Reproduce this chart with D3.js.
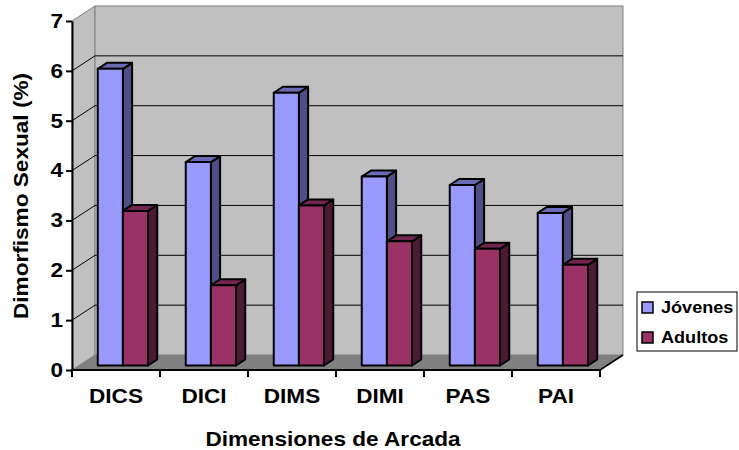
<!DOCTYPE html>
<html>
<head>
<meta charset="utf-8">
<script src="https://cdn.jsdelivr.net/npm/d3@7"></script>
<style>
  body { margin: 0; background: #fff; }
  text { font-family: "Liberation Sans", Arial, sans-serif; font-weight: bold; fill: #000; }
</style>
</head>
<body>
<div id="chart"></div>
<script>
// data
var categories = ["DICS", "DICI", "DIMS", "DIMI", "PAS", "PAI"];
var seriesNames = ["Jóvenes", "Adultos"];
var jovenes = [5.95, 4.08, 5.47, 3.79, 3.62, 3.06];
var adultos = [3.10, 1.61, 3.21, 2.49, 2.34, 2.02];
var yTicks = [0, 1, 2, 3, 4, 5, 6, 7];

var svgWidth = 739, svgHeight = 450;
var plot = { left: 72, right: 600, top: 21, bottom: 370 };
var depth = { dx: 23, dy: -15 };   // 3d offset of the back wall
var barFront = 0.3, barBack = 0.7; // bar position inside the depth
var stretch = 1.13;                // text looks horizontally widened

var colors = {
  "Jóvenes": { front: "#9999ff", side: "#4f4f85", top: "#6b6bb5" },
  "Adultos": { front: "#993366", side: "#4d1a33", top: "#732650" }
};

var svg = d3.select("#chart").append("svg")
  .attr("width", svgWidth)
  .attr("height", svgHeight);

var x = d3.scaleBand().domain(categories).range([plot.left, plot.right]);
var xs = d3.scaleBand().domain(seriesNames).range([0, x.bandwidth()]).paddingOuter(0.75);
var y = d3.scaleLinear().domain([0, 7]).range([plot.bottom, plot.top]);

var dx = depth.dx, dy = depth.dy;

// left wall
svg.append("polygon")
  .attr("points", [[plot.left, y(7)], [plot.left + dx, y(7) + dy], [plot.left + dx, y(0) + dy], [plot.left, y(0)]].join(" "))
  .attr("fill", "#c0c0c0")
  .attr("stroke", "#808080")
  .attr("stroke-width", 1);

// back wall
svg.append("rect")
  .attr("x", plot.left + dx)
  .attr("y", y(7) + dy)
  .attr("width", plot.right - plot.left)
  .attr("height", y(0) - y(7))
  .attr("fill", "#c0c0c0")
  .attr("stroke", "#808080")
  .attr("stroke-width", 1);

// floor
svg.append("polygon")
  .attr("points", [[plot.left, y(0)], [plot.right, y(0)], [plot.right + dx, y(0) + dy], [plot.left + dx, y(0) + dy]].join(" "))
  .attr("fill", "#808080");
svg.append("line")
  .attr("x1", plot.right).attr("y1", y(0))
  .attr("x2", plot.right + dx).attr("y2", y(0) + dy)
  .attr("stroke", "#000").attr("stroke-width", 1.5);

// gridlines on back and left walls
var grid = yTicks.filter(function(t) { return t > 0 && t < 7; });
svg.selectAll(".gridBack")
  .data(grid)
  .enter()
  .append("line")
  .attr("x1", plot.left + dx).attr("x2", plot.right + dx)
  .attr("y1", d => y(d) + dy).attr("y2", d => y(d) + dy)
  .attr("stroke", "#000").attr("stroke-width", 1);
svg.selectAll(".gridLeft")
  .data(grid)
  .enter()
  .append("line")
  .attr("x1", plot.left).attr("x2", plot.left + dx)
  .attr("y1", d => y(d)).attr("y2", d => y(d) + dy)
  .attr("stroke", "#000").attr("stroke-width", 1);

// bars
var rows = [];
categories.forEach(function(c, i) {
  rows.push({ cat: c, name: "Jóvenes", value: jovenes[i] });
  rows.push({ cat: c, name: "Adultos", value: adultos[i] });
});

var fx = barFront * dx, fy = barFront * dy;
var ddx = (barBack - barFront) * dx, ddy = (barBack - barFront) * dy;
var bw = xs.bandwidth();

var bars = svg.selectAll(".bar")
  .data(rows)
  .enter()
  .append("g")
  .attr("class", "bar");

bars.each(function(d) {
  var g = d3.select(this);
  var x0 = x(d.cat) + xs(d.name) + fx;
  var base = y(0) + fy;
  var top = y(d.value) + fy;
  var col = colors[d.name];
  g.append("polygon")
    .attr("points", [[x0 + bw, top], [x0 + bw + ddx, top + ddy], [x0 + bw + ddx, base + ddy], [x0 + bw, base]].join(" "))
    .attr("fill", col.side);
  g.append("polygon")
    .attr("points", [[x0, top], [x0 + bw, top], [x0 + bw + ddx, top + ddy], [x0 + ddx, top + ddy]].join(" "))
    .attr("fill", col.top);
  g.append("rect")
    .attr("x", x0).attr("y", top)
    .attr("width", bw).attr("height", base - top)
    .attr("fill", col.front);
  g.selectAll("polygon, rect")
    .attr("stroke", "#000")
    .attr("stroke-width", 2)
    .attr("stroke-linejoin", "round");
});

// y axis
var yAxis = svg.append("g")
  .attr("transform", `translate(${plot.left}, 0)`)
  .call(d3.axisLeft(y).tickValues(yTicks).tickFormat(d3.format("d"))
    .tickSize(6).tickSizeOuter(0).tickPadding(2));
yAxis.select(".domain").attr("stroke-width", 2);
yAxis.selectAll(".tick line").attr("stroke-width", 2);
yAxis.selectAll("text")
  .attr("font-size", "20px")
  .attr("font-family", null)
  .attr("transform", `scale(${stretch},1)`);

// x axis line and ticks between categories
svg.append("line")
  .attr("x1", plot.left - 1).attr("x2", plot.right)
  .attr("y1", y(0)).attr("y2", y(0))
  .attr("stroke", "#000").attr("stroke-width", 2);
var edges = categories.map(c => x(c)).concat([x(categories[categories.length - 1]) + x.bandwidth()]);
svg.selectAll(".xtick")
  .data(edges)
  .enter()
  .append("line")
  .attr("x1", d => d).attr("x2", d => d)
  .attr("y1", y(0)).attr("y2", y(0) + 7)
  .attr("stroke", "#000").attr("stroke-width", 2);

svg.selectAll(".catLabel")
  .data(categories)
  .enter()
  .append("text")
  .attr("text-anchor", "middle")
  .attr("font-size", "20px")
  .attr("transform", d => `translate(${x(d) + x.bandwidth() / 2}, 403) scale(${stretch},1)`)
  .text(d => d);

// axis titles
svg.append("text")
  .attr("text-anchor", "middle")
  .attr("font-size", "20px")
  .attr("transform", `translate(333, 446) scale(${stretch},1)`)
  .text("Dimensiones de Arcada");

svg.append("text")
  .attr("text-anchor", "middle")
  .attr("font-size", "20px")
  .attr("transform", `translate(28, 196) rotate(-90) scale(${stretch},1)`)
  .text("Dimorfismo Sexual (%)");

// legend
var legend = svg.append("g").attr("transform", "translate(637, 292)");
legend.append("rect")
  .attr("width", 100).attr("height", 59)
  .attr("fill", "#fff").attr("stroke", "#000").attr("stroke-width", 1);
var items = legend.selectAll(".item")
  .data(seriesNames)
  .enter()
  .append("g")
  .attr("transform", (d, i) => `translate(5, ${10 + i * 30})`);
items.append("rect")
  .attr("width", 11).attr("height", 11)
  .attr("fill", d => colors[d].front)
  .attr("stroke", "#000").attr("stroke-width", 1.5);
items.append("text")
  .attr("font-size", "16px")
  .attr("transform", `translate(19, 11) scale(${stretch},1)`)
  .text(d => d);
</script>
</body>
</html>
